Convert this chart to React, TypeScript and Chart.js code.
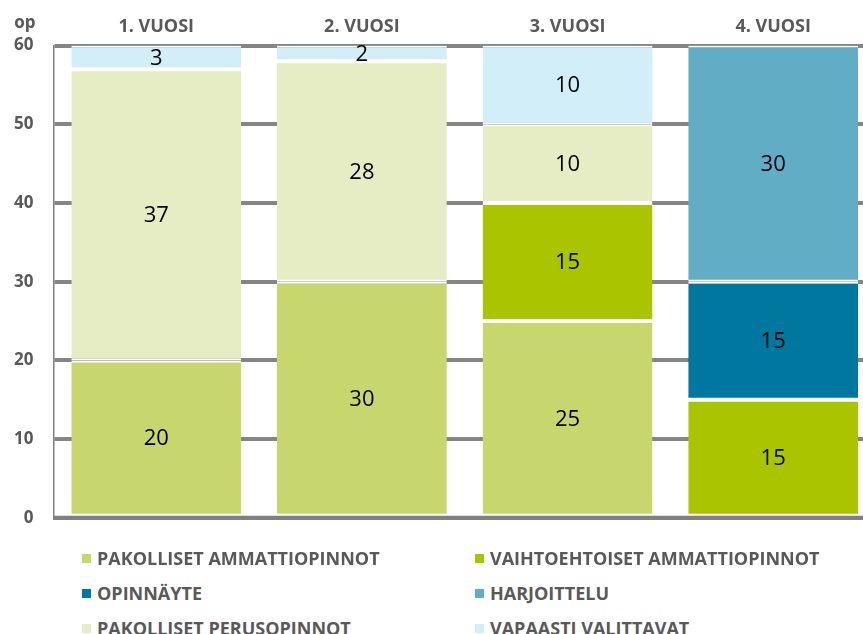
import React, { useEffect, useRef } from "react";
import { Chart, registerables } from "chart.js";

Chart.register(...registerables);

const categories = ["1. VUOSI", "2. VUOSI", "3. VUOSI", "4. VUOSI"];
const seriesNames = [
  "PAKOLLISET AMMATTIOPINNOT",
  "VAIHTOEHTOISET AMMATTIOPINNOT",
  "OPINNÄYTE",
  "HARJOITTELU",
  "PAKOLLISET PERUSOPINNOT",
  "VAPAASTI VALITTAVAT",
];
const pakollisetAmmatti = [20, 30, 25, null];
const vaihtoehtoiset = [null, null, 15, 15];
const opinnayte = [null, null, null, 15];
const harjoittelu = [null, null, null, 30];
const pakollisetPerus = [37, 28, 10, null];
const vapaasti = [3, 2, 10, null];
const seriesValues = [pakollisetAmmatti, vaihtoehtoiset, opinnayte, harjoittelu, pakollisetPerus, vapaasti];
const seriesColors = ["#C7D66D", "#AAC400", "#00779F", "#62ADC6", "#E6EDC5", "#D2EEF8"];
const yTicks = [0, 10, 20, 30, 40, 50, 60];
const yUnit = "op";

const GRAY = "#595959";
const FONT = "'Open Sans', 'DejaVu Sans', sans-serif";

const extrasPlugin = {
  id: "extras",
  afterDatasetsDraw(chart: any) {
    const ctx = chart.ctx;
    const ya = chart.scales.y;
    const xa = chart.scales.x;
    const area = chart.chartArea;
    // value labels
    ctx.save();
    ctx.font = `22px ${FONT}`;
    ctx.fillStyle = "#000";
    ctx.textAlign = "center";
    ctx.textBaseline = "middle";
    chart.data.datasets.forEach((ds: any, di: number) => {
      const meta = chart.getDatasetMeta(di);
      meta.data.forEach((el: any, i: number) => {
        const v = ds.data[i];
        if (v == null) return;
        const props = el.getProps(["x", "y", "base"], true);
        ctx.fillText(String(v), props.x, (props.y + props.base) / 2 + 1);
      });
    });
    // base line
    const y0 = ya.getPixelForValue(0);
    ctx.strokeStyle = "#808080";
    ctx.lineWidth = 4;
    ctx.beginPath();
    ctx.moveTo(area.left, y0);
    ctx.lineTo(area.right, y0);
    ctx.stroke();
    // unit label
    ctx.font = `bold 17px ${FONT}`;
    ctx.fillStyle = GRAY;
    ctx.textAlign = "right";
    ctx.textBaseline = "middle";
    const labelY = (xa.top + xa.bottom) / 2 - 4;
    ctx.fillText(yUnit, area.left - 18, labelY);
    ctx.restore();
  },
};

export default function App() {
  const ref = useRef<HTMLCanvasElement | null>(null);
  useEffect(() => {
    if (!ref.current) return;
    const chart = new Chart(ref.current, {
      type: "bar",
      data: {
        labels: categories,
        datasets: seriesNames.map((name, i) => ({
          label: name,
          data: seriesValues[i] as any,
          backgroundColor: seriesColors[i],
          borderColor: "#FFFFFF",
          borderWidth: { top: 2, bottom: 2, left: 0, right: 0 },
          borderSkipped: false,
          barPercentage: 0.826,
          categoryPercentage: 1,
        })),
      },
      options: {
        animation: false,
        responsive: true,
        maintainAspectRatio: false,
        layout: { padding: { left: 13, right: 0, top: 8, bottom: 6 } },
        plugins: { legend: { display: false }, tooltip: { enabled: false } },
        scales: {
          x: {
            position: "top",
            stacked: true,
            grid: { display: false, drawTicks: false },
            border: { display: false },
            ticks: { color: GRAY, font: { family: FONT, size: 18, weight: "bold" }, padding: 8 },
          },
          y: {
            stacked: true,
            min: 0,
            max: 60,
            afterBuildTicks: (axis: any) => {
              axis.ticks = yTicks.map((v) => ({ value: v }));
            },
            grid: { color: "#858585", lineWidth: 4, drawTicks: false },
            border: { display: true, color: "#808080", width: 1.5 },
            ticks: { color: GRAY, font: { family: FONT, size: 17, weight: "bold" }, padding: 20 },
          },
        },
      },
      plugins: [extrasPlugin],
    });
    return () => chart.destroy();
  }, []);

  return (
    <div style={{ position: "absolute", left: 0, top: 0, width: 863, height: 634, overflow: "hidden", background: "#fff" }}>
      <div style={{ position: "absolute", left: -19, top: 0, width: 895, height: 548 }}>
        <canvas ref={ref} />
      </div>
      {seriesNames.map((name, i) => {
        const col = i % 2;
        const row = Math.floor(i / 2);
        return (
          <div
            key={name}
            style={{
              position: "absolute",
              left: col === 0 ? 82 : 475,
              top: 558 + row * 35 - 12,
              height: 24,
              display: "flex",
              alignItems: "center",
              fontFamily: FONT,
              fontWeight: "bold",
              fontSize: 18,
              color: GRAY,
              whiteSpace: "nowrap",
            }}
          >
            <span style={{ display: "inline-block", width: 9, height: 9, background: seriesColors[i], marginRight: 6 }} />
            <span>{name}</span>
          </div>
        );
      })}
    </div>
  );
}
